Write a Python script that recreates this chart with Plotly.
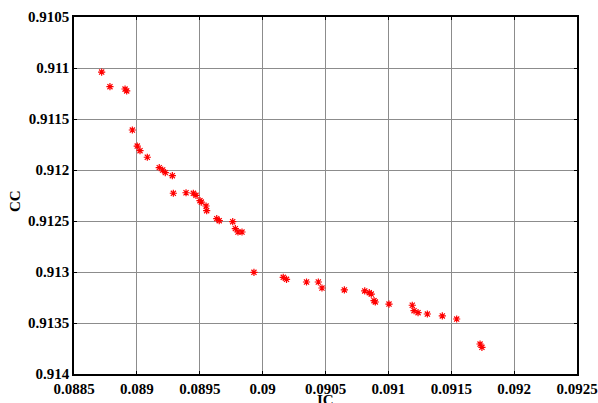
import plotly.graph_objects as go

ic = [0.08872, 0.088786, 0.088906, 0.088919, 0.088964, 0.089003, 0.089025, 0.089083,
      0.089178, 0.089205, 0.089226, 0.089282, 0.08929, 0.089391, 0.089449, 0.08947,
      0.089502, 0.089512, 0.08955, 0.089555, 0.089635, 0.089655, 0.089762, 0.089783,
      0.089804, 0.089836, 0.089931, 0.090164, 0.09019, 0.090349, 0.090443, 0.090472,
      0.09065, 0.090812, 0.090848, 0.090864, 0.090886, 0.090896, 0.091005, 0.09119,
      0.091204, 0.091236, 0.09131, 0.091429, 0.091543, 0.091729, 0.091744]
cc = [0.91104, 0.911183, 0.911206, 0.911225, 0.911608, 0.911765, 0.911811, 0.911875,
      0.911977, 0.912, 0.912026, 0.912056, 0.912228, 0.912223, 0.912228, 0.912248,
      0.912301, 0.912314, 0.912353, 0.912399, 0.912477, 0.912497, 0.912507, 0.912575,
      0.912608, 0.912608, 0.913003, 0.913052, 0.913072, 0.913098, 0.913098, 0.913157,
      0.913176, 0.913186, 0.913203, 0.913216, 0.913281, 0.913294, 0.913314, 0.913326,
      0.913379, 0.913399, 0.913412, 0.913431, 0.913461, 0.913706, 0.913738]

x_tick_vals = [0.0885, 0.089, 0.0895, 0.09, 0.0905, 0.091, 0.0915, 0.092, 0.0925]
x_tick_text = ["0.0885", "0.089", "0.0895", "0.09", "0.0905", "0.091", "0.0915", "0.092", "0.0925"]
y_tick_vals = [0.9105, 0.911, 0.9115, 0.912, 0.9125, 0.913, 0.9135, 0.914]
y_tick_text = ["0.9105", "0.911", "0.9115", "0.912", "0.9125", "0.913", "0.9135", "0.914"]

x_title = "IC"
y_title = "CC"

font = dict(family="Liberation Serif", size=15, color="black")

def bold(labels):
    return ["<b>%s</b>" % t for t in labels]

fig = go.Figure()
fig.add_trace(go.Scatter(
    x=ic, y=cc, mode="markers",
    marker=dict(symbol="asterisk-open", size=6, color="red",
                line=dict(color="red", width=1.2)),
    showlegend=False,
))

axis_common = dict(
    showgrid=True, gridcolor="#8c8c8c", gridwidth=1,
    showline=True, linecolor="black", linewidth=1.5, mirror="ticks",
    ticks="inside", ticklen=3, tickcolor="black", tickwidth=1,
    zeroline=False, tickfont=font, automargin=False,
)

fig.update_xaxes(range=[0.0885, 0.0925], tickvals=x_tick_vals, ticktext=bold(x_tick_text),
                 **axis_common)
fig.update_yaxes(range=[0.914, 0.9105], tickvals=y_tick_vals, ticktext=bold(y_tick_text),
                 **axis_common)

fig.add_annotation(text="<b>%s</b>" % x_title, xref="paper", yref="paper",
                   x=0.5, y=-0.072, xanchor="center", yanchor="middle",
                   showarrow=False, font=font)
fig.add_annotation(text="<b>%s</b>" % y_title, xref="paper", yref="paper",
                   x=-0.117, y=0.485, xanchor="center", yanchor="middle",
                   textangle=-90, showarrow=False, font=font)

fig.update_layout(
    width=598, height=403,
    margin=dict(l=74, r=21, t=17, b=29),
    paper_bgcolor="white", plot_bgcolor="white",
    font=font,
)

fig.write_html(
    "out.html",
    config={"displayModeBar": False},
    post_script="document.body.style.margin='0';document.body.style.overflow='hidden';",
)
